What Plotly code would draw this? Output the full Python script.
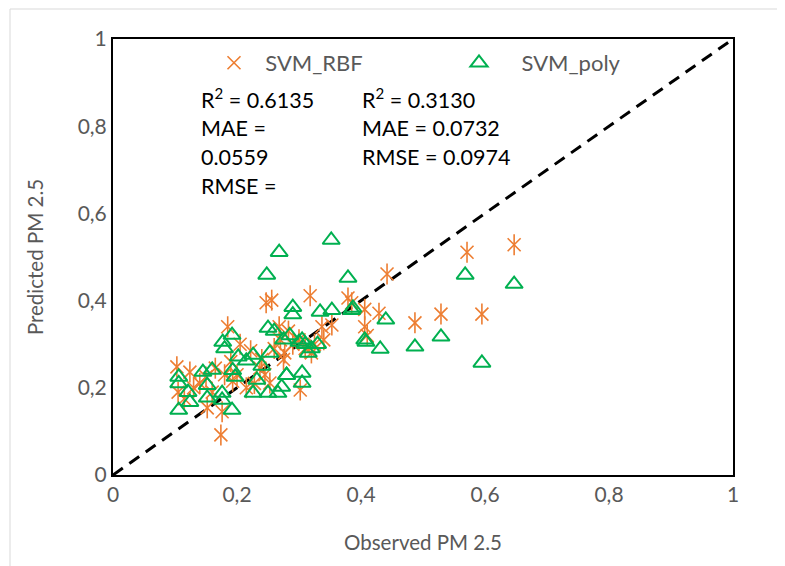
import plotly.graph_objects as go

# SVM_RBF (observed, predicted)
rbf_x = [0.647, 0.571, 0.595, 0.529, 0.487, 0.442, 0.429, 0.406, 0.406, 0.410,
         0.379, 0.385, 0.318, 0.353, 0.337, 0.302, 0.247, 0.256, 0.185, 0.268,
         0.103, 0.124, 0.105, 0.152, 0.176, 0.174, 0.190, 0.237, 0.240, 0.253,
         0.277, 0.275, 0.300, 0.310, 0.290, 0.283, 0.228, 0.215, 0.200, 0.140,
         0.160, 0.115, 0.130, 0.325, 0.340, 0.260, 0.270, 0.222, 0.205, 0.180,
         0.165, 0.320, 0.245, 0.150, 0.193]
rbf_y = [0.528, 0.511, 0.369, 0.369, 0.349, 0.461, 0.371, 0.380, 0.340, 0.320,
         0.406, 0.395, 0.411, 0.344, 0.340, 0.195, 0.395, 0.401, 0.340, 0.340,
         0.248, 0.236, 0.190, 0.154, 0.145, 0.092, 0.260, 0.245, 0.265, 0.211,
         0.280, 0.265, 0.310, 0.290, 0.300, 0.330, 0.210, 0.200, 0.230, 0.210,
         0.190, 0.175, 0.200, 0.300, 0.310, 0.290, 0.310, 0.285, 0.300, 0.230,
         0.245, 0.280, 0.230, 0.225, 0.215]

# SVM_poly (observed, predicted)
poly_x = [0.647, 0.568, 0.595, 0.529, 0.487, 0.440, 0.431, 0.406, 0.408, 0.379,
          0.387, 0.385, 0.352, 0.290, 0.290, 0.334, 0.353, 0.285, 0.300, 0.310,
          0.320, 0.330, 0.315, 0.305, 0.280, 0.305, 0.305, 0.268, 0.248, 0.192,
          0.177, 0.180, 0.250, 0.260, 0.106, 0.106, 0.121, 0.124, 0.106, 0.145,
          0.160, 0.152, 0.152, 0.176, 0.176, 0.192, 0.193, 0.197, 0.202, 0.226,
          0.232, 0.226, 0.253, 0.250, 0.266, 0.280, 0.272, 0.275, 0.240, 0.215]
poly_y = [0.438, 0.459, 0.257, 0.317, 0.294, 0.356, 0.289, 0.310, 0.305, 0.452,
          0.383, 0.378, 0.539, 0.385, 0.368, 0.374, 0.378, 0.320, 0.305, 0.300,
          0.290, 0.300, 0.280, 0.310, 0.229, 0.234, 0.211, 0.511, 0.459, 0.321,
          0.305, 0.290, 0.337, 0.330, 0.225, 0.210, 0.190, 0.167, 0.149, 0.236,
          0.241, 0.206, 0.177, 0.188, 0.172, 0.149, 0.240, 0.225, 0.271, 0.275,
          0.218, 0.188, 0.280, 0.188, 0.188, 0.229, 0.202, 0.310, 0.250, 0.262]

tick_vals = [0, 0.2, 0.4, 0.6, 0.8, 1]
tick_text = ["0", "0,2", "0,4", "0,6", "0,8", "1"]

rbf_stats = ["R<sup>2</sup> = 0.6135", "MAE =", "0.0559", "RMSE ="]
poly_stats = ["R<sup>2</sup> = 0.3130", "MAE = 0.0732", "RMSE = 0.0974"]

FONT = "Lato"
GREY = "#595959"
ORANGE = "#ED7D31"
GREEN = "#00B050"

# layout geometry (figure px); page has an 8px body offset
L, T, PW, PH = 105, 31, 620, 436
W, H = 777, 558


def px_x(p):
    return (p - 8 - L) / PW


def px_y(p):
    return (T + PH - (p - 8)) / PH


fig = go.Figure()
fig.add_trace(go.Scatter(x=[0, 1], y=[0, 1], mode="lines", showlegend=False,
                         line=dict(color="black", width=3, dash="12px,8px"), hoverinfo="skip"))
# six-spoke asterisk = X + vertical bar
fig.add_trace(go.Scatter(x=rbf_x, y=rbf_y, mode="markers", showlegend=False,
                         legendgroup="rbf", hoverinfo="skip",
                         marker=dict(symbol="line-ns-open", size=15, color=ORANGE,
                                     line=dict(color=ORANGE, width=1.6))))
fig.add_trace(go.Scatter(x=rbf_x, y=rbf_y, mode="markers", legendgroup="rbf",
                         name="&nbsp;&nbsp;SVM_RBF",
                         marker=dict(symbol="x-thin-open", size=13, color=ORANGE,
                                     line=dict(color=ORANGE, width=1.6))))
fig.add_trace(go.Scatter(x=poly_x, y=poly_y, mode="markers",
                         name="&nbsp;&nbsp;&nbsp;&nbsp;SVM_poly",
                         marker=dict(symbol="triangle-up-open", size=15, color=GREEN,
                                     line=dict(color=GREEN, width=2))))

annotations = []
for i, t in enumerate(rbf_stats):
    annotations.append(dict(xref="paper", yref="paper", x=px_x(199),
                            y=px_y(99 + i * 29), text=t, showarrow=False,
                            xanchor="left", yanchor="middle",
                            font=dict(family=FONT, size=21.5, color="black")))
for i, t in enumerate(poly_stats):
    annotations.append(dict(xref="paper", yref="paper", x=px_x(360),
                            y=px_y(99 + i * 29), text=t, showarrow=False,
                            xanchor="left", yanchor="middle",
                            font=dict(family=FONT, size=21.5, color="black")))

axis_common = dict(range=[0, 1], tickvals=tick_vals, ticktext=tick_text,
                   showgrid=False, zeroline=False, showline=True, linecolor="black",
                   linewidth=2, mirror=True, ticks="", automargin=False,
                   tickfont=dict(family=FONT, size=21, color=GREY))

fig.update_layout(
    width=W, height=H,
    margin=dict(l=L, r=W - L - PW, t=T, b=H - T - PH),
    paper_bgcolor="white", plot_bgcolor="white",
    xaxis=dict(**axis_common, title=dict(text="Observed PM 2.5", standoff=30,
                                         font=dict(family=FONT, size=20.5, color=GREY))),
    yaxis=dict(**axis_common, title=dict(text="Predicted PM 2.5", standoff=28,
                                         font=dict(family=FONT, size=20.5, color=GREY))),
    legend=dict(orientation="h", x=px_x(214), y=px_y(63),
                xanchor="left", yanchor="middle", bgcolor="rgba(0,0,0,0)",
                entrywidth=200, entrywidthmode="pixels",
                font=dict(family=FONT, size=22, color=GREY)),
    annotations=annotations,
    shapes=[dict(type="rect", xref="paper", yref="paper",
                 x0=px_x(10), x1=px_x(800),
                 y0=px_y(580), y1=px_y(9),
                 line=dict(color="#D9D9D9", width=1), fillcolor="rgba(0,0,0,0)", layer="below")],
)

fig.write_html("out.html")
